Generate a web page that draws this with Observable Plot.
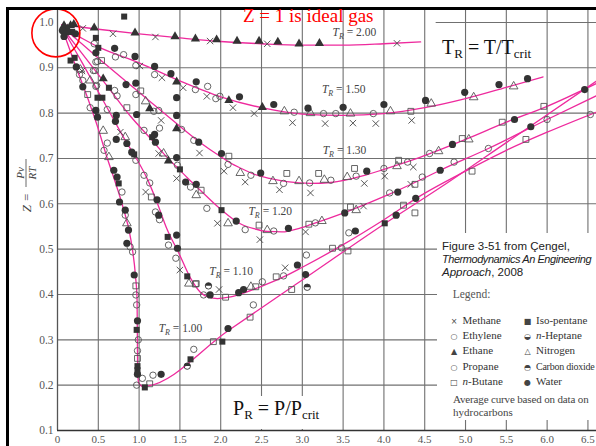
<!DOCTYPE html>
<html><head><meta charset="utf-8">
<script src="https://cdn.jsdelivr.net/npm/d3@7"></script>
<script src="https://cdn.jsdelivr.net/npm/@observablehq/plot@0.6"></script>
<style>
html,body{margin:0;padding:0;background:#fff;}
#wrap{position:relative;width:596px;height:446px;overflow:hidden;background:#fff;}
#wrap svg{display:block;}
.abs{position:absolute;white-space:nowrap;}
.serif{font-family:"Liberation Serif","Times New Roman",serif;}
.sans{font-family:"Liberation Sans",Arial,sans-serif;}
.sym{display:inline-block;width:10px;text-align:center;font-family:"DejaVu Sans",sans-serif;font-size:8px;color:#444;margin-right:3.5px;letter-spacing:0;}
.sb{font-size:13px;position:relative;top:4px;}
</style></head>
<body><div id="wrap"></div>
<script>
// ---- axes ----
const xTicks = [0,0.5,1,1.5,2,2.5,3,3.5,4,4.5,5,5.5,6,6.5];
const yTicks = [0.1,0.2,0.3,0.4,0.5,0.6,0.7,0.8,0.9,1.0];
const gridYValues = [0.2,0.3,0.4,0.5,0.6,0.7,0.8,0.9];
const topLineSpan = [{z:1.0, x1:4.64, x2:6.61}];

// ---- curves (reduced pressure, Z) ----
const trNames = ["2.00","1.50","1.30","1.20","1.10","1.00"];
const tr200 = [[0.05,0.995],[0.5,0.985],[1.0,0.975],[1.5,0.966],[2.0,0.958],[2.5,0.953],[3.0,0.950],[3.5,0.950],[4.0,0.953],[4.45,0.957]];
const tr150 = [[0.05,0.99],[0.25,0.97],[0.5,0.946],[1.0,0.911],[1.5,0.871],[2.0,0.836],[2.5,0.812],[3.0,0.798],[3.5,0.795],[4.0,0.799],[4.5,0.812],[5.0,0.832],[5.5,0.857],[5.95,0.88]];
const tr130 = [[0.05,0.99],[0.2,0.968],[0.6,0.906],[1.0,0.846],[1.4,0.786],[1.7,0.742],[1.85,0.722],[2.0,0.704],[2.12,0.69],[2.24,0.679],[2.4,0.666],[2.6,0.656],[2.81,0.649],[3.1,0.645],[3.35,0.647],[3.75,0.662],[4.0,0.676],[4.45,0.703],[5.0,0.742],[5.5,0.78],[6.0,0.815],[6.6,0.865]];
const tr120 = [[0.05,0.99],[0.3,0.932],[0.6,0.862],[0.9,0.792],[1.16,0.74],[1.34,0.703],[1.5,0.674],[1.6,0.656],[1.75,0.63],[2.0,0.588],[2.24,0.556],[2.41,0.545],[2.57,0.539],[2.75,0.538],[2.98,0.547],[3.1,0.554],[3.51,0.58],[4.04,0.619],[4.45,0.653],[4.69,0.674],[5.28,0.722],[6.0,0.786],[6.6,0.838]];
const tr110 = [[0.05,0.99],[0.3,0.912],[0.5,0.847],[0.7,0.782],[0.83,0.74],[0.98,0.696],[1.1,0.655],[1.22,0.603],[1.34,0.545],[1.49,0.49],[1.63,0.436],[1.75,0.405],[1.85,0.394],[1.96,0.391],[2.1,0.394],[2.24,0.401],[2.5,0.418],[2.75,0.437],[3.0,0.46],[3.5,0.51],[4.0,0.565],[4.45,0.618],[5.0,0.672],[5.5,0.718],[6.0,0.758],[6.6,0.802]];
const tr100 = [[0.05,0.99],[0.2,0.915],[0.4,0.818],[0.5,0.765],[0.6,0.706],[0.7,0.652],[0.8,0.594],[0.9,0.52],[0.956,0.44],[0.975,0.39],[0.979,0.30],[0.982,0.23],[0.995,0.205],[1.05,0.197],[1.1,0.198],[2.09,0.32],[3.0,0.432],[4.0,0.555],[4.7,0.637],[5.5,0.735],[6.6,0.87]];
const labelAnchors = [[3.37,0.978],[3.24,0.852],[3.25,0.718],[2.34,0.583],[1.86,0.452],[1.24,0.325]];

// ---- measured points ----
const methane = [[0.31,0.987],[0.68,0.975],[1.2,0.968],[1.87,0.959],[2.57,0.953],[4.16,0.954],
 [1.01,0.904],[1.28,0.878],[1.54,0.856],[1.83,0.837],[2.15,0.812],[2.41,0.799],[2.88,0.779],[3.28,0.777],[3.62,0.778],[3.9,0.777],[4.34,0.784],
 [1.27,0.784],[1.74,0.712],[2.04,0.672],[2.3,0.648],[2.72,0.631],[3.1,0.624],[3.76,0.645],[4.01,0.661],[4.36,0.681],
 [0.77,0.758],[1.24,0.711],[1.46,0.656],[1.96,0.557],[2.48,0.521],[3.04,0.538],[3.75,0.595],[4.33,0.643],
 [0.3,0.893],[1.08,0.626],[1.5,0.454],[1.98,0.411],[2.79,0.459]];
const ethylene = [[0.45,0.953],[0.47,0.913],[0.44,0.894],[0.48,0.861],[0.27,0.885],[0.31,0.872],[0.40,0.812],[0.49,0.914],[0.61,0.808],[0.61,0.734],[0.70,0.85],[0.96,0.841],[1.06,0.762],[1.25,0.767],[1.18,0.804],[0.71,0.924],[0.81,0.929],[0.96,0.905],[1.19,0.885],[1.69,0.852],[1.84,0.859],[1.94,0.832],[1.99,0.837],[2.9,0.802],[3.26,0.799],[3.41,0.799],[3.87,0.799],[0.57,0.718],[0.79,0.626],[0.83,0.575],[0.89,0.505]];
const propane = [[0.92,0.494],[0.96,0.696],[1.06,0.663],[1.13,0.646],[1.2,0.582],[1.25,0.565],[1.36,0.509],[1.45,0.48],[1.47,0.685],[1.63,0.637],[1.83,0.59],[2.3,0.543],[2.65,0.54],[3.16,0.558],[4.07,0.624],[4.47,0.659],[4.86,0.692],[5.28,0.722],[6.0,0.786],[2.09,0.687],[2.37,0.663],[2.77,0.645],[3.09,0.646],[3.35,0.652],[3.66,0.661],[4.0,0.678],[4.29,0.692],[4.56,0.711],[0.96,0.399],[0.97,0.377],[0.99,0.30],[0.98,0.276],[0.97,0.2],[1.04,0.215],[1.17,0.222],[1.67,0.279],[2.4,0.377],[1.79,0.399],[2.51,0.428],[2.77,0.441],[3.05,0.487],[3.48,0.503],[3.57,0.536],[6.53,0.797],[1.52,0.764],[1.67,0.74],[0.73,0.838],[1.24,0.806],[0.46,0.894],[0.47,0.859]];
const ethane = [[0.08,0.993],[0.16,0.993],[0.2,0.996],[0.12,0.986],[0.45,0.988],[0.95,0.977],[1.44,0.969],[1.69,0.964],[1.95,0.962],[2.2,0.959],[2.47,0.959],[2.7,0.957],[2.96,0.953],[3.21,0.954],[0.56,0.876],[1.13,0.81],[1.36,0.695],[1.46,0.766],[1.46,0.869],[2.1,0.828],[2.51,0.813]];
const butane = [[0.37,0.841],[0.54,0.916],[0.85,0.812],[1.02,0.849],[1.15,0.615],[1.7,0.424],[1.76,0.63],[2.1,0.705],[2.47,0.553],[2.81,0.667],[3.08,0.555],[3.2,0.667],[3.59,0.593],[3.64,0.678],[4.18,0.696],[4.33,0.804],[4.38,0.643],[2.68,0.439],[2.87,0.411],[3.37,0.502],[3.56,0.496],[4.24,0.597],[4.38,0.58],[5.08,0.672],[4.96,0.744],[5.45,0.78],[5.74,0.742],[5.96,0.815],[0.96,0.419],[0.98,0.259],[1.13,0.203],[1.69,0.423],[1.91,0.296],[2.06,0.394],[2.36,0.35],[2.43,0.417]];
const isopentane = [[0.817,1.013],[0.18,0.979],[0.16,0.916],[0.21,0.922],[0.47,0.966],[0.5,0.944],[0.49,0.834],[0.55,0.834],[0.63,0.856],[0.75,0.645],[0.94,0.709],[1.16,0.747],[1.35,0.527],[1.5,0.676],[1.59,0.44],[2.01,0.586],[0.97,0.322],[0.98,0.242],[0.98,0.233],[1.07,0.195],[1.63,0.257],[2.02,0.296],[4.01,0.557]];
const heptane = [];
const nitrogen = [[0.28,0.896],[0.40,0.872],[0.56,0.761],[0.83,0.747],[1.08,0.826],[0.63,0.703],[0.85,0.557],[1.3,0.711],[1.7,0.619],[2.09,0.557],[2.57,0.542],[1.61,0.424],[2.37,0.417],[2.24,0.668],[2.64,0.65],[2.96,0.65],[3.27,0.653],[3.55,0.659],[2.78,0.804],[3.1,0.80],[3.59,0.799],[4.08,0.804],[4.58,0.821],[5.1,0.835],[5.59,0.859],[3.24,0.562],[3.66,0.586],[4.67,0.716],[5.04,0.742],[4.16,0.683]];
const co2 = [[1.59,0.242],[3.06,0.416],[1.85,0.419]];
const water = [[0.06,0.982],[0.12,0.979],[0.08,0.969],[0.22,0.975],[0.23,0.902],[0.31,0.858],[0.47,0.806],[0.49,0.791],[0.47,0.933],[0.70,0.943],[0.95,0.925],[1.19,0.903],[1.39,0.887],[1.70,0.869],[2.23,0.836],[2.65,0.819],[3.07,0.811],[3.5,0.813],[4.0,0.819],[4.51,0.828],[4.99,0.846],[5.41,0.863],[5.76,0.876],[0.72,0.795],[0.71,0.782],[0.84,0.863],[0.96,0.866],[0.97,0.797],[1.19,0.753],[1.46,0.795],[1.46,0.834],[1.73,0.736],[0.69,0.674],[0.73,0.659],[0.76,0.604],[0.83,0.586],[0.87,0.542],[0.85,0.513],[0.94,0.443],[0.72,0.742],[0.85,0.733],[0.91,0.714],[1.22,0.609],[1.24,0.575],[1.46,0.531],[1.47,0.502],[1.2,0.736],[1.46,0.702],[1.57,0.648],[1.7,0.643],[2.19,0.562],[2.83,0.546],[2.01,0.711],[2.49,0.668],[3.79,0.672],[3.52,0.58],[4.17,0.626],[4.69,0.674],[5.8,0.77],[0.98,0.342],[0.98,0.224],[1.27,0.224],[2.09,0.325],[1.87,0.399],[2.22,0.404],[2.28,0.411],[2.94,0.465],[3.65,0.54],[4.39,0.612],[3.04,0.444],[4.15,0.575],[4.84,0.731],[5.6,0.786],[6.46,0.852]];
const highlight = [[-0.02,0.977]];

// ---- legend ----
const legendNames = ["Methane","Ethylene","Ethane","Propane","n-Butane","Iso-pentane","n-Heptane","Nitrogen","Carbon dioxide","Water"];
const legendGlyphs = ["\u00D7","\u25CB","\u25B2","\u25CB","\u25A1","\u25A0","\u25D2","\u25B3","\u25D3","\u25CF"];

const pts = a => a.map(([pr,z]) => ({pr, z}));
const curves = [tr200,tr150,tr130,tr120,tr110,tr100].flatMap((a,i) => a.map(([pr,z]) => ({tr: trNames[i], pr, z})));
const labels = labelAnchors.map(([pr,z],i) => ({pr, z, label: "T_R = " + trNames[i]}));

const pink = "#ee2a9d";
const dark = "#333";
const openStroke = "#555";
const upperHalf = {draw(ctx, size){const r=Math.sqrt(size/Math.PI); ctx.moveTo(-r,0); ctx.arc(0,0,r,Math.PI,2*Math.PI); ctx.closePath();}};

const chart = Plot.plot({
  width: 596, height: 446,
  marginLeft: 57, marginRight: 0, marginTop: 8, marginBottom: 16,
  x: {domain: [0, 6.605]},
  y: {domain: [0.1, 1.0308]},
  style: {fontFamily: "Liberation Serif, serif", fontSize: "11px", background: "white", color: "#555"},
  marks: [
    Plot.gridX(xTicks.filter(d => d > 0), {stroke: "#707070", strokeOpacity: 1, strokeWidth: 1.1}),
    Plot.gridY(gridYValues, {stroke: "#707070", strokeOpacity: 1, strokeWidth: 1.1}),
    Plot.ruleY(topLineSpan, {y: "z", x1: "x1", x2: "x2", stroke: "#707070", strokeWidth: 1.1}),
    Plot.ruleX([0], {stroke: "#555", strokeWidth: 1.3}),
    Plot.ruleY([0.1], {stroke: "#333", strokeWidth: 1.5}),
    Plot.line(curves, {x: "pr", y: "z", z: "tr", stroke: pink, strokeWidth: 1.3, curve: "monotone-x"}),
    Plot.dot(pts(methane), {x: "pr", y: "z", symbol: "times", r: 3.0, stroke: "#444", strokeWidth: 0.9}),
    Plot.dot(pts(ethylene), {x: "pr", y: "z", symbol: "circle", r: 3.2, stroke: openStroke, fill: "none", strokeWidth: 0.9}),
    Plot.dot(pts(propane), {x: "pr", y: "z", symbol: "circle", r: 3.2, stroke: openStroke, fill: "none", strokeWidth: 0.9}),
    Plot.dot(pts(butane), {x: "pr", y: "z", symbol: "square", r: 3.3, stroke: openStroke, fill: "none", strokeWidth: 0.9}),
    Plot.dot(pts(nitrogen), {x: "pr", y: "z", symbol: "triangle", r: 3.2, stroke: openStroke, fill: "none", strokeWidth: 0.9}),
    Plot.dot(pts(heptane), {x: "pr", y: "z", symbol: "circle", r: 3.2, stroke: dark, fill: "none", strokeWidth: 0.9}),
    Plot.dot(pts(co2), {x: "pr", y: "z", symbol: "circle", r: 3.2, stroke: dark, fill: "none", strokeWidth: 0.9}),
    Plot.dot(pts(co2), {x: "pr", y: "z", symbol: upperHalf, r: 3.2, fill: dark}),
    Plot.dot(pts(ethane), {x: "pr", y: "z", symbol: "triangle", r: 3.4, fill: dark}),
    Plot.dot(pts(isopentane), {x: "pr", y: "z", symbol: "square", r: 3.4, fill: dark}),
    Plot.dot(pts(water), {x: "pr", y: "z", symbol: "circle", r: 3.6, fill: dark}),
    Plot.text(labels, {x: "pr", y: "z", text: "label", textAnchor: "start", fontSize: 11.5, fill: "#444", fontFamily: "Liberation Serif"}),
    Plot.dot(pts(highlight), {x: "pr", y: "z", r: 24, stroke: "#ff0000", strokeWidth: 1.6, fill: "none"}),
    Plot.axisY(yTicks, {tickSize: 0, tickPadding: 4, tickFormat: d => d.toFixed(1), fontSize: 11.5, fill: "#555", label: null}),
    Plot.axisX(xTicks, {tickSize: 0, tickPadding: 5, tickFormat: d => d === 0 ? "0" : d.toFixed(1), fontSize: 11, fill: "#555", label: null})
  ]
});

// rich text for T_R labels
(function(){
  const ns = "http://www.w3.org/2000/svg";
  chart.querySelectorAll("text").forEach(t => {
    const s = t.textContent;
    if (!s.startsWith("T_R")) return;
    while (t.firstChild) t.removeChild(t.firstChild);
    const mk = (txt, attrs) => { const e = document.createElementNS(ns, "tspan"); for (const k in attrs) e.setAttribute(k, attrs[k]); e.textContent = txt; t.appendChild(e); };
    mk("T", {"font-style": "italic"});
    mk("R", {"font-style": "italic", "font-size": "8px", "dy": "3"});
    mk(s.slice(3), {"dy": "-3"});
  });
})();

// y-axis label Z = Pv/RT
(function(){
  const g = d3.select(chart).append("g").attr("transform", "translate(26,190) rotate(-90)")
    .attr("font-family", "Liberation Serif, serif").attr("font-style", "italic").attr("fill", "#444");
  g.append("text").attr("x", -3).attr("y", 5).attr("text-anchor", "end").attr("font-size", 13).text("Z =");
  g.append("line").attr("x1", 3).attr("x2", 31).attr("y1", 0).attr("y2", 0).attr("stroke", "#444").attr("stroke-width", 0.8);
  g.append("text").attr("x", 17).attr("y", -2.5).attr("text-anchor", "middle").attr("font-size", 11).text("Pv");
  g.append("text").attr("x", 17).attr("y", 9.5).attr("text-anchor", "middle").attr("font-size", 11).text("RT");
})();

const wrap = document.getElementById("wrap");
wrap.appendChild(chart);

let html = "";
html += '<div class="abs" style="left:6px;top:7px;width:600px;height:450px;box-sizing:border-box;border-top:3px solid #000;border-left:3px solid #000;"></div>';
html += '<div class="abs serif" style="left:243px;top:6px;font-size:19px;line-height:19px;color:#ff0000;">Z = 1 is ideal gas</div>';
html += '<div class="abs serif" style="left:442px;top:37px;font-size:20px;line-height:20px;color:#111;">T<span class="sb">R</span> = T/T<span class="sb">crit</span></div>';
html += '<div class="abs" style="left:229px;top:396px;width:96px;height:33px;background:#fff;"></div>';
html += '<div class="abs serif" style="left:233px;top:398px;font-size:20px;line-height:20px;color:#111;">P<span class="sb">R</span> = P/P<span class="sb">crit</span></div>';
html += '<div class="abs" style="left:437px;top:233px;width:159px;height:187px;background:#fff;"></div>';
html += '<div class="abs sans" style="left:442px;top:240px;font-size:11.5px;line-height:12px;color:#222;">Figure 3-51 from \u00C7engel,</div>';
html += '<div class="abs sans" style="left:442px;top:253px;font-size:11px;line-height:12px;color:#222;letter-spacing:-0.45px;"><i>Thermodynamics An Engineering</i></div>';
html += '<div class="abs sans" style="left:442px;top:266px;font-size:11.5px;line-height:12px;color:#222;"><i>Approach</i>, 2008</div>';
html += '<div class="abs serif" style="left:452.7px;top:288.5px;font-size:11.5px;line-height:11.5px;color:#555;">Legend:</div>';
const rowBase = [324, 339.3, 354.6, 369.9, 385.2];
const colSym = [454, 527.5];
legendNames.forEach((n, i) => {
  const col = Math.floor(i / 5), row = i % 5;
  const name = n.startsWith("n-") ? "<i>n</i>-" + n.slice(2) : n;
  const fit = n.length > 12 ? "font-size:10px;letter-spacing:-0.25px;" : "font-size:11px;";
  html += '<div class="abs serif" style="left:' + (colSym[col] - 5) + 'px;top:' + (rowBase[row] - 9.2) + 'px;line-height:11px;color:#333;' + fit + '"><span class="sym">' + legendGlyphs[i] + '</span>' + name + '</div>';
});
html += '<div class="abs serif" style="left:453px;top:394.3px;font-size:11px;line-height:11px;color:#444;letter-spacing:-0.15px;">Average curve based on data on</div>';
html += '<div class="abs serif" style="left:453px;top:406.8px;font-size:11px;line-height:11px;color:#444;">hydrocarbons</div>';
wrap.insertAdjacentHTML("beforeend", html);
</script>
</body></html>
